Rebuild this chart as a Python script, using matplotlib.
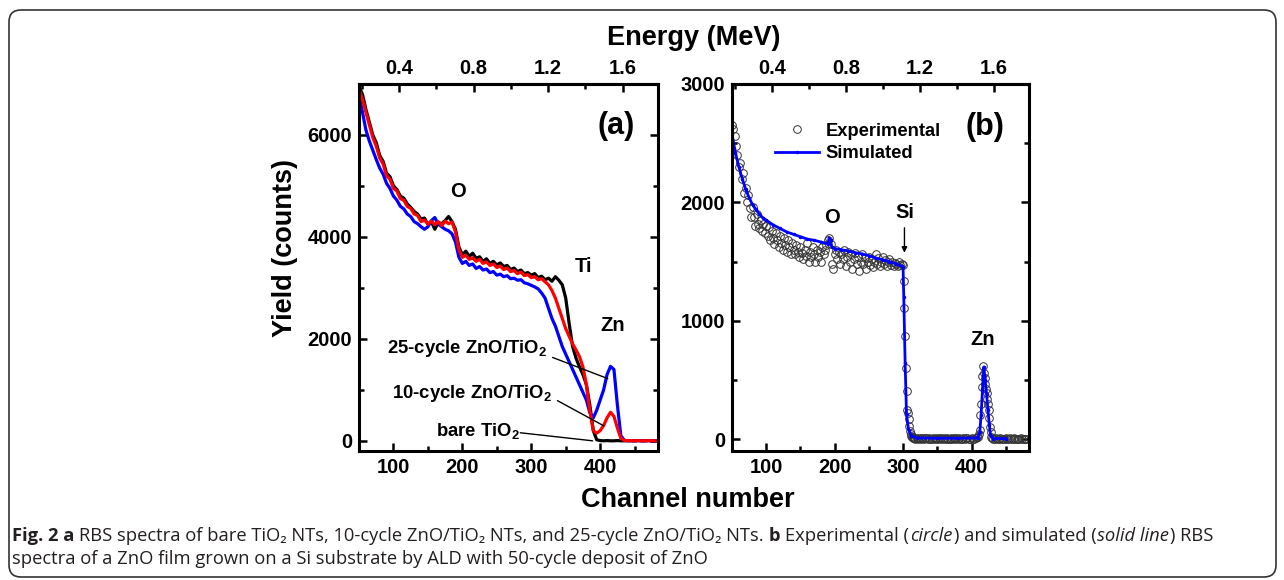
import numpy as np
import matplotlib
matplotlib.use('Agg')
import matplotlib.pyplot as plt
from matplotlib.patches import FancyBboxPatch
from matplotlib.transforms import IdentityTransform
from matplotlib.ticker import MultipleLocator, FormatStrFormatter

# ---- panel (a): RBS spectra of the nanotube samples ----
ch_a = np.arange(50, 481, 5)

bare_tio2 = [
    6950, 6800, 6500, 6250, 6000, 5850, 5600, 5480, 5250, 5180,
    5000, 4930, 4800, 4760, 4650, 4580, 4500, 4450, 4350, 4370,
    4250, 4300, 4150, 4280, 4260, 4320, 4400, 4300, 4150, 3800,
    3650, 3720, 3620, 3680, 3580, 3610, 3520, 3570, 3480, 3520,
    3450, 3490, 3420, 3440, 3360, 3390, 3320, 3350, 3280, 3300,
    3250, 3280, 3200, 3230, 3160, 3190, 3130, 3220, 3150, 3060,
    2800, 2300, 1850, 1620, 1450, 1300, 1100, 700, 200, 20,
    5, 0, 5, 0, 0, 5, 0, 0, 5, 0,
    0, 5, 0, 0, 5, 0, 0]

zno_10 = [
    6900, 6700, 6450, 6200, 5950, 5780, 5550, 5430, 5200, 5130,
    4950, 4900, 4750, 4720, 4600, 4560, 4450, 4420, 4300, 4330,
    4250, 4310, 4240, 4300, 4220, 4310, 4260, 4290, 4100, 3750,
    3600, 3640, 3560, 3590, 3520, 3560, 3480, 3510, 3440, 3470,
    3400, 3430, 3360, 3390, 3320, 3340, 3280, 3310, 3240, 3260,
    3200, 3220, 3160, 3180, 3120, 3060, 2950, 2800, 2600, 2400,
    2200, 2050, 1900, 1780, 1650, 1450, 1100, 600, 200, 150,
    200, 300, 450, 560, 480, 250, 50, 10, 0, 5,
    0, 5, 0, 0, 5, 0, 0]

zno_25 = [
    6800, 6450, 6100, 5880, 5700, 5520, 5350, 5230, 5050, 4950,
    4800, 4720, 4600, 4550, 4450, 4400, 4300, 4260, 4200, 4150,
    4200, 4320, 4380, 4250, 4200, 4150, 4120, 4060, 3900, 3600,
    3480, 3520, 3440, 3470, 3380, 3420, 3350, 3370, 3300, 3320,
    3250, 3270, 3220, 3240, 3180, 3190, 3150, 3160, 3100, 3080,
    3050, 3020, 2980, 2900, 2800, 2600, 2400, 2250, 2050, 1850,
    1700, 1550, 1400, 1250, 1100, 950, 800, 550, 450, 600,
    800, 1000, 1300, 1460, 1400, 700, 100, 10, 0, 5,
    0, 5, 0, 0, 5, 0, 0]

# ---- panel (b): ZnO film on Si ----
exp_ch_top = np.arange(50, 301, 2)
exp_top = [
    2650, 2620, 2560, 2480, 2400, 2300, 2330, 2200, 2250, 2080,
    2120, 2000, 2060, 1950, 1880, 1960, 1880, 1800, 1900, 1820,
    1780, 1850, 1760, 1820, 1740, 1800, 1720, 1790, 1680, 1760,
    1700, 1650, 1740, 1680, 1620, 1720, 1660, 1600, 1700, 1640,
    1580, 1680, 1620, 1560, 1660, 1600, 1560, 1640, 1580, 1540,
    1620, 1570, 1520, 1600, 1550, 1660, 1500, 1580, 1540, 1620,
    1560, 1500, 1600, 1540, 1580, 1500, 1620, 1560, 1600, 1640,
    1680, 1700, 1650, 1480, 1440, 1560, 1600, 1520, 1580, 1480,
    1560, 1520, 1600, 1460, 1540, 1580, 1500, 1560, 1440, 1520,
    1570, 1480, 1540, 1420, 1500, 1560, 1480, 1530, 1440, 1500,
    1540, 1470, 1520, 1450, 1500, 1560, 1480, 1530, 1460, 1500,
    1540, 1480, 1510, 1460, 1500, 1520, 1470, 1500, 1460, 1490,
    1480, 1460, 1500, 1470, 1480, 1470]
exp_ch_edge = np.arange(301, 317)
exp_edge = [1340, 1110, 870, 600, 410, 250, 220, 170, 110, 70,
            45, 30, 20, 15, 10, 8]
exp_ch_flat = np.arange(318, 411, 2)
exp_flat = [5, 10, 0, 8, 3, 12, 0, 6, 10, 2,
            8, 0, 5, 12, 3, 7, 0, 10, 4, 6,
            0, 9, 3, 12, 5, 0, 8, 4, 10, 2,
            6, 0, 11, 5, 3, 8, 0, 7, 12, 4,
            2, 9, 5, 0, 10, 15, 20]
exp_ch_zn = np.arange(411, 431)
exp_zn = [40, 80, 200, 300, 440, 530, 620, 560, 520, 470,
          420, 390, 340, 300, 250, 180, 100, 60, 20, 10]
exp_ch_tail = np.arange(432, 481, 2)
exp_tail = [5, 0, 8, 3, 0, 6, 2, 0, 5, 8,
            0, 3, 6, 0, 4, 7, 0, 2, 5, 0,
            6, 3, 0, 4, 2]

sim_ch = [50, 55, 60, 65, 70, 75, 80, 85, 90, 95, 100, 110, 120, 130, 140,
          150, 160, 170, 180, 190, 192, 194, 196, 200, 210, 220, 230, 240,
          250, 260, 270, 280, 290, 298, 300, 301, 303, 305, 308, 312, 320,
          350, 380, 409, 412, 414, 416, 418, 420, 422, 424, 426, 428, 432,
          450]
sim_val = [2580, 2420, 2300, 2200, 2110, 2040, 1980, 1940, 1900, 1870, 1850,
           1810, 1780, 1750, 1730, 1710, 1690, 1680, 1665, 1650, 1700, 1680,
           1620, 1610, 1600, 1590, 1575, 1565, 1550, 1530, 1515, 1500, 1480,
           1460, 1450, 1200, 640, 210, 80, 30, 10, 8, 8, 10, 60, 200, 420,
           610, 500, 380, 250, 120, 30, 5, 5]

plt.rcParams['font.family'] = ['Liberation Sans', 'DejaVu Sans']
plt.rcParams['font.weight'] = 'bold'
plt.rcParams['mathtext.fontset'] = 'custom'
plt.rcParams['mathtext.rm'] = 'Liberation Sans:bold'
plt.rcParams['mathtext.sf'] = 'Liberation Sans:bold'
plt.rcParams['axes.linewidth'] = 2.2

fig = plt.figure(figsize=(12.84, 5.8), dpi=100)
ax1 = fig.add_axes([0.2796, 0.2224, 0.2329, 0.6328])
ax2 = fig.add_axes([0.5701, 0.2224, 0.2313, 0.6328])

kev = 0.0037  # MeV per channel
tick_fs = 14.5


def style_axis(ax, ymaj, ymin):
    ax.set_xlim(50, 484)
    ax.xaxis.set_major_locator(MultipleLocator(100))
    ax.xaxis.set_minor_locator(MultipleLocator(50))
    ax.yaxis.set_major_locator(MultipleLocator(ymaj))
    ax.yaxis.set_minor_locator(MultipleLocator(ymin))
    ax.tick_params(which='both', direction='in', top=False, right=True,
                   width=1.8, labelsize=tick_fs)
    ax.tick_params(which='major', length=6, pad=5)
    ax.tick_params(which='minor', length=3.5)
    top = ax.secondary_xaxis('top', functions=(lambda c: c * kev,
                                               lambda e: e / kev))
    top.xaxis.set_major_locator(MultipleLocator(0.4))
    top.xaxis.set_minor_locator(MultipleLocator(0.2))
    top.tick_params(which='both', direction='in', width=1.8, labelsize=tick_fs)
    top.tick_params(which='major', length=6, pad=4)
    top.tick_params(which='minor', length=3.5)
    top.xaxis.set_major_formatter(FormatStrFormatter('%.1f'))
    top.spines['top'].set_linewidth(2.2)


# panel (a)
ax1.plot(ch_a, bare_tio2, color='black', lw=2.3)
ax1.plot(ch_a, zno_25, color='#0000ff', lw=2.3)
ax1.plot(ch_a, zno_10, color='#ff0000', lw=2.3)
ax1.set_ylim(-200, 7000)
style_axis(ax1, 2000, 1000)

ax1.text(423, 6170, '(a)', fontsize=22, ha='center', va='center')
ax1.text(193, 4890, 'O', fontsize=14.5, ha='center', va='center')
ax1.text(376, 3410, 'Ti', fontsize=14.5, ha='center', va='center')
ax1.text(418, 2270, 'Zn', fontsize=14.5, ha='center', va='center')

ax1.text(323, 1714, r'25-cycle ZnO/TiO$_\mathsf{2}$', fontsize=13.3, ha='right', va='baseline')
ax1.text(330, 847, r'10-cycle ZnO/TiO$_\mathsf{2}$', fontsize=13.3, ha='right', va='baseline')
ax1.text(283, 99, r'bare TiO$_\mathsf{2}$', fontsize=13.3, ha='right', va='baseline')
line_kw = dict(arrowstyle='-', color='black', lw=1, shrinkA=0, shrinkB=0)
ax1.annotate('', xy=(411, 1221), xytext=(331, 1635), arrowprops=line_kw)
ax1.annotate('', xy=(405, 296), xytext=(338, 788), arrowprops=line_kw)
ax1.annotate('', xy=(389, 0), xytext=(284, 158), arrowprops=line_kw)

# panel (b)
mk = dict(marker='o', ls='none', ms=5.5, mfc='none', mec='#333333', mew=0.7)
ax2.plot(exp_ch_top, exp_top, label='Experimental', **mk)
for cx, cy in [(exp_ch_edge, exp_edge), (exp_ch_flat, exp_flat),
               (exp_ch_zn, exp_zn), (exp_ch_tail, exp_tail)]:
    ax2.plot(cx, cy, **mk)
ax2.plot(sim_ch, sim_val, color='#0000ff', lw=2, marker='.', ms=3,
         label='Simulated')
ax2.set_ylim(-100, 3000)
style_axis(ax2, 1000, 500)

ax2.legend(loc='upper left', bbox_to_anchor=(0.145, 0.895), frameon=False,
           fontsize=13.2, handlelength=2.4, handletextpad=0.35,
           labelspacing=0.3, borderpad=0, borderaxespad=0)
ax2.text(420, 2634, '(b)', fontsize=22, ha='center', va='center')
ax2.text(196, 1870, 'O', fontsize=14.5, ha='center', va='center')
ax2.text(302, 1915, 'Si', fontsize=14.5, ha='center', va='center')
ax2.annotate('', xy=(302, 1575), xytext=(302, 1785),
             arrowprops=dict(arrowstyle='-|>', color='black', lw=1,
                             mutation_scale=8, shrinkA=0, shrinkB=0))
ax2.text(417, 840, 'Zn', fontsize=14.5, ha='center', va='center')

# shared labels
fig.text(694 / 1284, 1 - 38 / 580, 'Energy (MeV)', fontsize=19.5,
         ha='center', va='center')
fig.text(688 / 1284, 1 - 500 / 580, 'Channel number', fontsize=19.5,
         ha='center', va='center')
fig.text(285 / 1284, 1 - 248 / 580, 'Yield (counts)', fontsize=19.5,
         rotation=90, ha='center', va='center')

# caption, written as runs of regular / bold / italic text
cap_fs = 13.2
space = 0.27 * cap_fs
cap_line1 = [
    ('Fig. 2 a', 'bold', 'normal', 0),
    ('RBS spectra of bare TiO\u2082 NTs, 10-cycle ZnO/TiO\u2082 NTs, '
     'and 25-cycle ZnO/TiO\u2082 NTs.', 'normal', 'normal', space),
    ('b', 'bold', 'normal', space),
    ('Experimental (', 'normal', 'normal', space),
    ('circle', 'normal', 'italic', 0.6),
    (') and simulated (', 'normal', 'normal', 0.6),
    ('solid line', 'normal', 'italic', 0.6),
    (') RBS', 'normal', 'normal', 0.6),
]
cap_line2 = [
    ('spectra of a ZnO film grown on a Si substrate by ALD with 50-cycle '
     'deposit of ZnO', 'normal', 'normal', 0),
]


def caption_line(y, runs):
    prev = None
    for text, weight, style, gap in runs:
        kw = dict(fontsize=cap_fs, fontfamily=['Open Sans', 'DejaVu Sans'],
                  fontweight=weight, fontstyle=style, color='#231f20',
                  va='bottom', ha='left', annotation_clip=False)
        if prev is None:
            prev = ax1.annotate(text, xy=(12, 580 - y), xycoords='figure pixels', **kw)
        else:
            prev = ax1.annotate(text, xy=(1, 0), xycoords=prev,
                                xytext=(gap, 0), textcoords='offset points', **kw)


caption_line(545, cap_line1)
caption_line(568, cap_line2)

# rounded frame around the figure
frame = FancyBboxPatch((9, 3), 1267, 567, boxstyle='round,pad=0,rounding_size=12',
                       transform=IdentityTransform(), fill=False, lw=1.2,
                       ec='#333333')
fig.add_artist(frame)

fig.savefig('out.png', dpi=100)
